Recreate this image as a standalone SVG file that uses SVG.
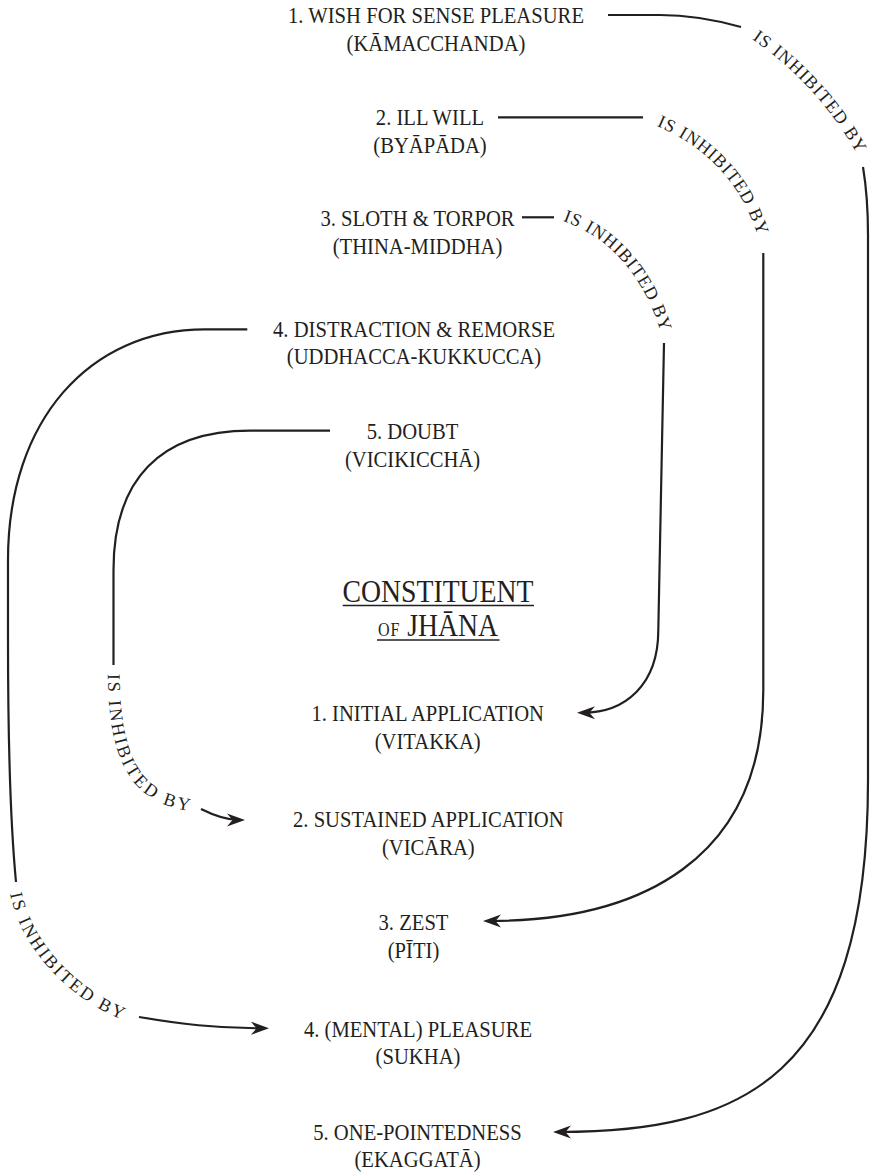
<svg xmlns="http://www.w3.org/2000/svg" width="872" height="1173" viewBox="0 0 872 1173">
<style>
.t{font-family:"Liberation Serif","Times New Roman",serif;font-size:24px;fill:#231f20;text-anchor:middle;}
.ttl{font-family:"Liberation Serif","Times New Roman",serif;font-size:31px;fill:#231f20;text-anchor:middle;}
.lbl{font-family:"Liberation Serif","Times New Roman",serif;font-size:18px;letter-spacing:1.3px;fill:#231f20;text-anchor:middle;dominant-baseline:central;}
.lbl2{letter-spacing:2px;}
.ln{fill:none;stroke:#231f20;stroke-width:2.2;}
.arr{marker-end:url(#ah);}
.ul{stroke:#231f20;stroke-width:1.3;}
</style>
<defs>
<marker id="ah" markerUnits="userSpaceOnUse" markerWidth="24" markerHeight="16" viewBox="-20 -8 24 16" refX="-6" refY="0" orient="auto">
<path d="M0,0 C-6,-2 -12,-4.5 -18,-6.5 L-12.5,0 L-18,6.5 C-12,4.5 -6,2 0,0 Z" fill="#231f20"/>
</marker>
<path id="lp1" d="M734.4,19.9 L755,34 Q821,79 863,152 L875.5,173.7"/>
<path id="lp2" d="M634.9,110.3 L658,120 Q739,154 764,236 L771.3,259.9"/>
<path id="lp3" d="M540.3,206.9 L564,215 Q638.5,240.5 667,332 L674.4,355.9"/>
<path id="lp4" d="M11.8,861.2 L15,886 C22,940 70,995 132,1017 L155.6,1025.4"/>
<path id="lp5" d="M113.8,643 L113.8,668 C113.8,760 135,800 198,806 L222.9,808.4"/>
</defs>

<g id="connectors">
<path class="ln" d="M608,15 H660 C690,15 716,20 741,27"/>
<path class="ln arr" d="M863,167 C866,185 868,205 868,235 V780 C868,1080 740,1132 559,1132"/>
<path class="ln" d="M498,117.3 H643"/>
<path class="ln arr" d="M763.3,253 V690 C763.3,860 640,921 489,921"/>
<path class="ln" d="M522,217.3 H554"/>
<path class="ln arr" d="M664,343 L658.3,630 C658.3,685 625,712.7 583,712.7"/>
<path class="ln" d="M247.3,329.3 H205 C90,329.3 8,420 8,560 L8,640 C8,760 12,840 16,882"/>
<path class="ln arr" d="M139,1017 C180,1024 215,1028.3 263,1028.3"/>
<path class="ln" d="M330,430.7 H250 C160,430.7 113.5,480 113.5,570 V665"/>
<path class="ln arr" d="M201,809 C215,816 228,820 239,820"/>
<text class="lbl"><textPath href="#lp1" startOffset="50%">IS INHIBITED BY</textPath></text>
<text class="lbl"><textPath href="#lp2" startOffset="50%">IS INHIBITED BY</textPath></text>
<text class="lbl"><textPath href="#lp3" startOffset="50%">IS INHIBITED BY</textPath></text>
<text class="lbl lbl2"><textPath href="#lp4" startOffset="50%">IS INHIBITED BY</textPath></text>
<text class="lbl lbl2"><textPath href="#lp5" startOffset="50%">IS INHIBITED BY</textPath></text>
</g>

<g id="hindrance1" transform="translate(436 0) scale(0.86 1)">
<text class="t" x="0" y="23">1. WISH FOR SENSE PLEASURE</text>
<text class="t" x="0" y="51">(KĀMACCHANDA)</text>
</g>
<g id="hindrance2" transform="translate(430 0) scale(0.86 1)">
<text class="t" x="0" y="125.5">2. ILL WILL</text>
<text class="t" x="0" y="153.5">(BYĀPĀDA)</text>
</g>
<g id="hindrance3" transform="translate(417.5 0) scale(0.86 1)">
<text class="t" x="0" y="225.7">3. SLOTH &amp; TORPOR</text>
<text class="t" x="0" y="254">(THINA-MIDDHA)</text>
</g>
<g id="hindrance4" transform="translate(414 0) scale(0.86 1)">
<text class="t" x="0" y="336.7">4. DISTRACTION &amp; REMORSE</text>
<text class="t" x="0" y="364.3">(UDDHACCA-KUKKUCCA)</text>
</g>
<g id="hindrance5" transform="translate(412.5 0) scale(0.86 1)">
<text class="t" x="0" y="439.3">5. DOUBT</text>
<text class="t" x="0" y="467.3">(VICIKICCHĀ)</text>
</g>

<g id="title">
<g transform="translate(438 0) scale(0.895 1)">
<text class="ttl" x="0" y="602">CONSTITUENT</text>
<text class="ttl" x="0" y="636"><tspan font-size="18" letter-spacing="1">OF</tspan> JHĀNA</text>
</g>
<line class="ul" x1="342.7" y1="605.5" x2="534" y2="605.5"/>
<line class="ul" x1="377" y1="640" x2="499.5" y2="640"/>
</g>

<g id="factor1" transform="translate(427.7 0) scale(0.86 1)">
<text class="t" x="0" y="720.7">1. INITIAL APPLICATION</text>
<text class="t" x="0" y="749">(VITAKKA)</text>
</g>
<g id="factor2" transform="translate(428.3 0) scale(0.86 1)">
<text class="t" x="0" y="826.7">2. SUSTAINED APPLICATION</text>
<text class="t" x="0" y="855">(VICĀRA)</text>
</g>
<g id="factor3" transform="translate(413.5 0) scale(0.86 1)">
<text class="t" x="0" y="930">3. ZEST</text>
<text class="t" x="0" y="958">(PĪTI)</text>
</g>
<g id="factor4" transform="translate(418 0) scale(0.86 1)">
<text class="t" x="0" y="1036.7">4. (MENTAL) PLEASURE</text>
<text class="t" x="0" y="1064.5">(SUKHA)</text>
</g>
<g id="factor5" transform="translate(417.5 0) scale(0.86 1)">
<text class="t" x="0" y="1140">5. ONE-POINTEDNESS</text>
<text class="t" x="0" y="1167.5">(EKAGGATĀ)</text>
</g>
</svg>
